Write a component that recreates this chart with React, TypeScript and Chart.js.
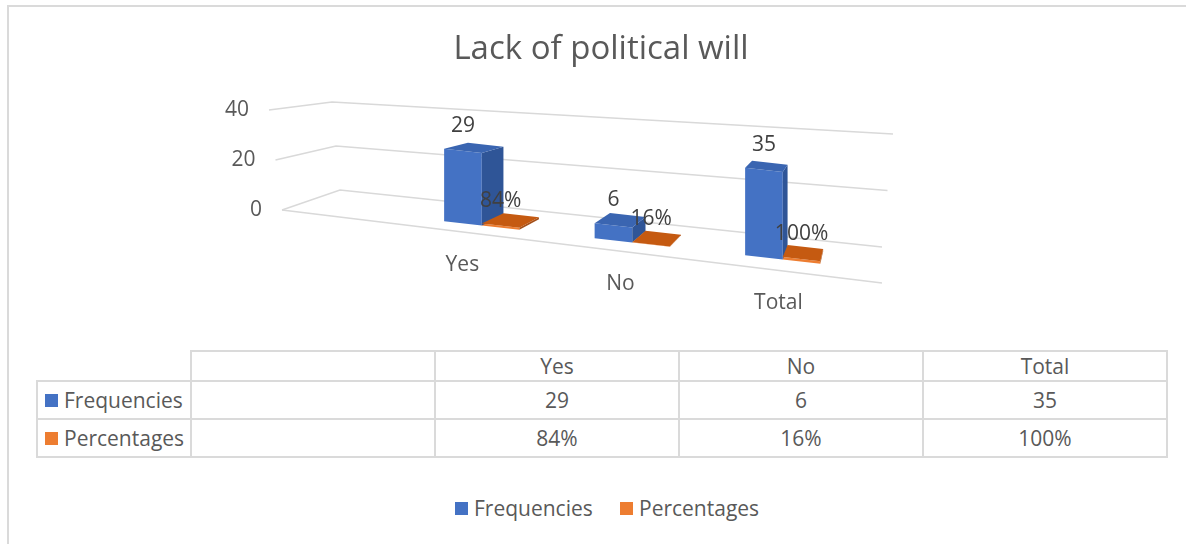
import React, { useEffect, useRef } from "react";
import { Chart, registerables } from "chart.js";

Chart.register(...registerables);

// ---------- data ----------
const TITLE = "Lack of political will";
const CATEGORIES = ["", "Yes", "No", "Total"];
const SERIES_NAMES = ["Frequencies", "Percentages"];
const FREQUENCIES: (number | null)[] = [null, 29, 6, 35];
const PERCENTAGES: (number | null)[] = [null, 0.84, 0.16, 1.0];
const Y_TICKS = [0, 20, 40];

// ---------- style ----------
const FRONT_COLORS = ["#4472C4", "#ED7D31"];
const SIDE_COLORS = ["#2F5597", "#A4501A"];
const TOP_COLORS = ["#3A65B1", "#C55A11"];
const TEXT = "#595959";
const LABEL_TEXT = "#404040";
const GRID = "#D9D9D9";
const FONT = "'Open Sans', 'Noto Sans', sans-serif";
const FONT_SIZE = 21;

const FORMATTERS = [
  (v: number) => String(v),
  (v: number) => Math.round(v * 100) + "%",
];
const SERIES = [FREQUENCIES, PERCENTAGES];

// pseudo-3D geometry (decoration only)
const BAR_SLOPE = 0.113;
const BAR_LIFT = -7;
const FLOOR_SLOPE = 73 / 600;
const DEPTH_T = 0.056;

function geometry(chart: any) {
  const { left, right, top } = chart.chartArea;
  const ys = chart.scales.y;
  const y0 = ys.getPixelForValue(0);
  const xc = left + 26;
  const vp = { x: right + 11, y: top - 70 };
  const toScreen = (px: number, py: number) => ({
    x: px,
    y: py + BAR_SLOPE * (px - xc) + BAR_LIFT,
  });
  const floorY = (X: number) => y0 + FLOOR_SLOPE * (X - xc);
  return { left, right, top, y0, xc, vp, toScreen, floorY, ys };
}

const fake3d = {
  id: "fake3d",
  beforeDraw(chart: any) {
    const g = geometry(chart);
    const ctx = chart.ctx;
    ctx.save();
    ctx.strokeStyle = GRID;
    ctx.lineWidth = 1.5;
    for (const v of Y_TICKS) {
      const yv = g.ys.getPixelForValue(v);
      const d = yv - g.y0;
      const fl = { x: g.xc + 0.13 * d, y: yv };
      const bl = { x: g.xc + 58 + 0.08 * d, y: g.y0 - 20 + 0.88 * d };
      const br = { x: g.right + 24 - 0.11 * d, y: bl.y + 57 + 0.25 * d };
      ctx.beginPath();
      ctx.moveTo(fl.x, fl.y);
      ctx.lineTo(bl.x, bl.y);
      ctx.lineTo(br.x, br.y);
      ctx.stroke();
    }
    const fr = g.right + 24;
    ctx.beginPath();
    ctx.moveTo(g.xc, g.y0);
    ctx.lineTo(fr, g.floorY(fr));
    ctx.stroke();
    ctx.restore();
  },
  beforeDatasetsDraw(chart: any) {
    const g = geometry(chart);
    chart.ctx.save();
    chart.ctx.transform(1, BAR_SLOPE, 0, 1, 0, -BAR_SLOPE * g.xc + BAR_LIFT);
  },
  afterDatasetsDraw(chart: any) {
    const ctx = chart.ctx;
    ctx.restore();
    const g = geometry(chart);
    const back = (p: any) => ({
      x: p.x + DEPTH_T * (g.vp.x - p.x),
      y: p.y + DEPTH_T * (g.vp.y - p.y),
    });
    const poly = (pts: any[], color: string) => {
      ctx.beginPath();
      ctx.moveTo(pts[0].x, pts[0].y);
      for (let k = 1; k < pts.length; k++) ctx.lineTo(pts[k].x, pts[k].y);
      ctx.closePath();
      ctx.fillStyle = color;
      ctx.fill();
    };
    ctx.save();
    for (let i = 0; i < CATEGORIES.length; i++) {
      for (let di = 0; di < SERIES.length; di++) {
        const val = SERIES[di][i];
        const el = chart.getDatasetMeta(di).data[i];
        if (val == null || !el) continue;
        const { x, y, base, width } = el.getProps(["x", "y", "base", "width"], true);
        const l = x - width / 2;
        const r = x + width / 2;
        const FLt = g.toScreen(l, y);
        const FRt = g.toScreen(r, y);
        const FRb = g.toScreen(r, base);
        const BLt = back(FLt);
        const BRt = back(FRt);
        const BRb = back(FRb);
        poly([FRt, BRt, BRb, FRb], SIDE_COLORS[di]);
        poly([FLt, FRt, BRt, BLt], TOP_COLORS[di]);
      }
    }
    ctx.restore();
  },
  afterDraw(chart: any) {
    const ctx = chart.ctx;
    const g = geometry(chart);
    ctx.save();
    ctx.font = `${FONT_SIZE}px ${FONT}`;
    ctx.textBaseline = "middle";
    // value axis labels
    ctx.fillStyle = TEXT;
    ctx.textAlign = "right";
    for (const v of Y_TICKS) {
      const yv = g.ys.getPixelForValue(v);
      const d = yv - g.y0;
      ctx.fillText(String(v), g.xc + 0.13 * d - 20, yv);
    }
    // category labels
    ctx.textAlign = "center";
    const xs = chart.scales.x;
    CATEGORIES.forEach((c, i) => {
      if (!c) return;
      const u = xs.getPixelForValue(i);
      const X = u - 0.05 * (g.vp.x - u);
      ctx.fillText(c, X, g.floorY(X) + 33);
    });
    // data labels
    ctx.fillStyle = LABEL_TEXT;
    for (let i = 0; i < CATEGORIES.length; i++) {
      for (let di = 0; di < SERIES.length; di++) {
        const val = SERIES[di][i];
        const el = chart.getDatasetMeta(di).data[i];
        if (val == null || !el) continue;
        const { x, y, width } = el.getProps(["x", "y", "width"], true);
        const a = g.toScreen(x - width / 2, y);
        const b = g.toScreen(x + width / 2, y);
        ctx.fillText(FORMATTERS[di](val), (a.x + b.x) / 2, (a.y + b.y) / 2 - 25);
      }
    }
    ctx.restore();
  },
};

// ---------- table layout ----------
const COL_X = [36, 190, 434, 678, 922, 1166];
const ROW_Y = [350, 380, 418, 456];
const BORDER = "2px solid #DADADA";

function Cell(props: { c0: number; r0: number; children?: any; align?: string }) {
  const { c0, r0, children, align } = props;
  const left = COL_X[c0];
  const top = ROW_Y[r0];
  return (
    <div
      style={{
        position: "absolute",
        left,
        top,
        width: COL_X[c0 + 1] - left + 2,
        height: ROW_Y[r0 + 1] - top + 2,
        border: BORDER,
        boxSizing: "border-box",
        display: "flex",
        alignItems: "center",
        justifyContent: align === "left" ? "flex-start" : "center",
        paddingLeft: align === "left" ? 7 : 0,
        fontFamily: FONT,
        fontSize: FONT_SIZE,
        color: TEXT,
        lineHeight: 1,
        whiteSpace: "nowrap",
      }}
    >
      {children}
    </div>
  );
}

function Swatch({ color }: { color: string }) {
  return (
    <span
      style={{
        display: "inline-block",
        width: 13,
        height: 13,
        background: color,
        marginRight: 6,
      }}
    />
  );
}

export default function App() {
  const canvasRef = useRef<HTMLCanvasElement | null>(null);

  useEffect(() => {
    if (!canvasRef.current) return;
    const chart = new Chart(canvasRef.current, {
      type: "bar",
      data: {
        labels: CATEGORIES,
        datasets: SERIES.map((data, di) => ({
          label: SERIES_NAMES[di],
          data,
          backgroundColor: FRONT_COLORS[di],
          borderWidth: 0,
          categoryPercentage: 0.5,
          barPercentage: 1,
          clip: false as any,
        })),
      },
      options: {
        responsive: false,
        animation: false,
        devicePixelRatio: 1,
        layout: { padding: { left: 256, right: 328, top: 110, bottom: 130 } },
        scales: {
          x: { display: false },
          y: { display: false, min: 0, max: 40 },
        },
        plugins: {
          legend: { display: false },
          title: { display: false },
          tooltip: { enabled: false },
        },
      },
      plugins: [fake3d as any],
    });
    return () => chart.destroy();
  }, []);

  return (
    <div style={{ position: "absolute", left: 0, top: 0, width: 1186, height: 544, overflow: "hidden", background: "#fff" }}>
      <div
        style={{
          position: "absolute",
          left: 7,
          top: 5,
          width: 1179,
          height: 539,
          borderTop: BORDER,
          borderLeft: BORDER,
          boxSizing: "border-box",
        }}
      />
      <canvas ref={canvasRef} width={1186} height={340} style={{ position: "absolute", left: 0, top: 0 }} />
      <div
        style={{
          position: "absolute",
          left: 8,
          top: 27,
          width: 1186,
          textAlign: "center",
          fontFamily: FONT,
          fontSize: 33,
          lineHeight: "40px",
          color: TEXT,
        }}
      >
        {TITLE}
      </div>
      {/* header row */}
      {CATEGORIES.map((c, i) => (
        <Cell key={"h" + i} c0={i + 1} r0={0}>
          {c}
        </Cell>
      ))}
      {SERIES.map((data, di) => (
        <React.Fragment key={"r" + di}>
          <Cell c0={0} r0={di + 1} align="left">
            <Swatch color={FRONT_COLORS[di]} />
            {SERIES_NAMES[di]}
          </Cell>
          {data.map((v, i) => (
            <Cell key={"c" + i} c0={i + 1} r0={di + 1}>
              {v == null ? "" : FORMATTERS[di](v)}
            </Cell>
          ))}
        </React.Fragment>
      ))}
      {/* legend */}
      {SERIES_NAMES.map((n, di) => (
        <div
          key={"lg" + di}
          style={{
            position: "absolute",
            left: di === 0 ? 455 : 620,
            top: 494,
            height: 28,
            display: "flex",
            alignItems: "center",
            fontFamily: FONT,
            fontSize: FONT_SIZE,
            color: TEXT,
            lineHeight: 1,
            whiteSpace: "nowrap",
          }}
        >
          <Swatch color={FRONT_COLORS[di]} />
          {n}
        </div>
      ))}
    </div>
  );
}
